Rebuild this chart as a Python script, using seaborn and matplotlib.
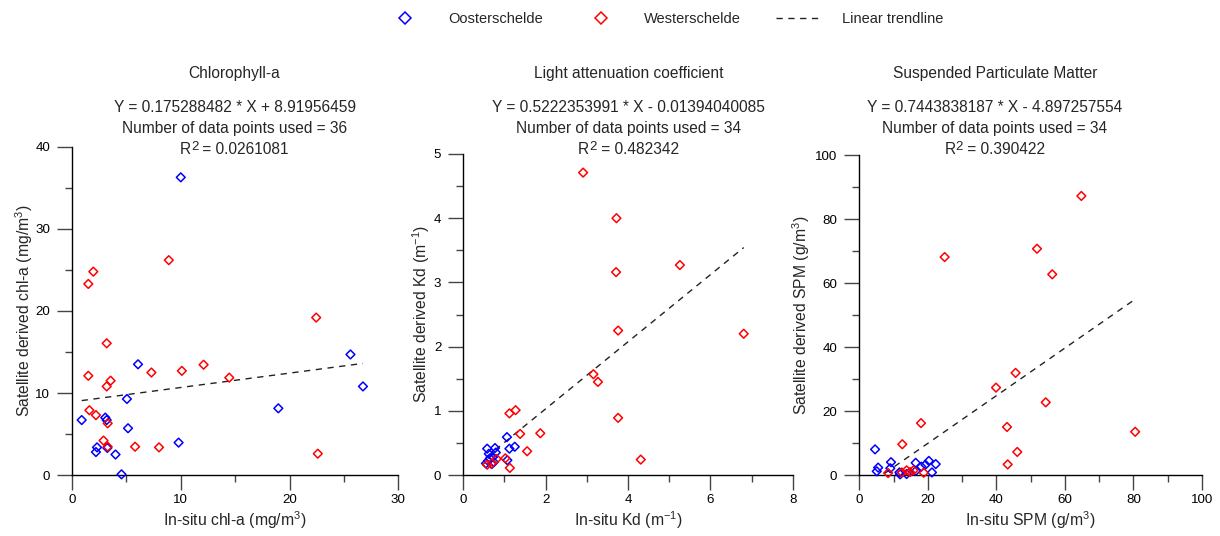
import numpy as np
import pandas as pd
import matplotlib
matplotlib.use("Agg")
import matplotlib.pyplot as plt
from matplotlib.lines import Line2D
from matplotlib.ticker import MultipleLocator
import matplotlib.transforms as mtransforms
import seaborn as sns

# ---------------- data ----------------
series_names = ["Oosterschelde", "Westerschelde"]
series_colors = ["#0000ff", "#ff0000"]

oos_chl_x = [10.0, 6.07, 5.05, 0.89, 3.06, 3.19, 5.15, 3.25, 9.8, 2.3, 2.2, 4.0, 4.55, 25.6, 26.75, 18.97]
oos_chl_y = [36.3, 13.5, 9.27, 6.7, 7.0, 6.7, 5.7, 3.3, 3.95, 3.37, 2.8, 2.5, 0.08, 14.7, 10.8, 8.13]
wes_chl_x = [8.9, 1.96, 1.5, 3.19, 1.5, 7.3, 10.1, 12.1, 3.55, 3.19, 1.6, 2.2, 3.28, 2.9, 3.28, 5.8, 8.0, 22.45, 14.46, 22.6]
wes_chl_y = [26.2, 24.8, 23.3, 16.06, 12.1, 12.5, 12.7, 13.45, 11.5, 10.8, 7.9, 7.3, 6.3, 4.2, 3.45, 3.45, 3.37, 19.2, 11.87, 2.6]

oos_kd_x = [1.06, 1.25, 1.12, 0.58, 0.77, 0.79, 1.07, 0.65, 0.69, 0.55, 0.74, 0.62, 0.72, 0.6]
oos_kd_y = [0.59, 0.44, 0.41, 0.41, 0.42, 0.35, 0.23, 0.26, 0.17, 0.18, 0.2, 0.33, 0.28, 0.22]
wes_kd_x = [2.91, 3.72, 3.71, 5.26, 3.76, 6.81, 3.27, 3.76, 4.31, 3.16, 1.12, 1.27, 1.38, 1.87, 1.55, 1.13, 1.02, 0.81, 0.69, 0.58]
wes_kd_y = [4.71, 4.0, 3.16, 3.27, 2.25, 2.2, 1.45, 0.89, 0.24, 1.57, 0.96, 1.01, 0.64, 0.65, 0.37, 0.11, 0.26, 0.25, 0.18, 0.16]

oos_spm_x = [4.6, 5.5, 5.1, 9.25, 9.05, 11.7, 11.9, 13.8, 16.45, 16.5, 18.1, 19.3, 20.3, 21.2, 22.3]
oos_spm_y = [8.1, 2.4, 1.25, 4.1, 2.2, 0.9, 0.3, 0.4, 3.9, 1.4, 2.7, 3.3, 4.5, 0.9, 3.5]
wes_spm_x = [24.9, 64.8, 51.85, 56.3, 45.6, 54.4, 80.5, 46.1, 39.9, 43.1, 43.3, 18.0, 12.55, 8.4, 18.8, 12.4, 13.8, 14.8, 15.8]
wes_spm_y = [68.2, 87.3, 70.8, 62.8, 32.0, 22.8, 13.6, 7.3, 27.4, 15.1, 3.4, 16.3, 9.7, 0.7, 0.8, 0.9, 1.55, 1.0, 1.55]

slopes = [0.175288482, 0.5222353991, 0.7443838187]
intercepts = [8.91956459, -0.01394040085, -4.897257554]

titles = ["Chlorophyll-a", "Light attenuation coefficient", "Suspended Particulate Matter"]
equations = ["Y = 0.175288482 * X + 8.91956459",
             "Y = 0.5222353991 * X - 0.01394040085",
             "Y = 0.7443838187 * X - 4.897257554"]
n_points = [36, 34, 34]
r2_values = ["0.0261081", "0.482342", "0.390422"]
xlabels = ["In-situ chl-a (mg/m$^{3}$)", "In-situ Kd (m$^{-1}$)", "In-situ SPM (g/m$^{3}$)"]
ylabels = ["Satellite derived chl-a (mg/m$^{3}$)", "Satellite derived Kd (m$^{-1}$)",
           "Satellite derived SPM (g/m$^{3}$)"]

# ---------------- style ----------------
sns.set_style("white")
plt.rcParams["font.family"] = ["Liberation Sans", "DejaVu Sans"]
plt.rcParams["mathtext.fontset"] = "custom"
plt.rcParams["mathtext.rm"] = "Liberation Sans"
plt.rcParams["mathtext.it"] = "Liberation Sans:italic"
plt.rcParams["mathtext.bf"] = "Liberation Sans:bold"

W, H = 1220, 536
fig = plt.figure(figsize=(W / 100, H / 100), dpi=100)
renderer = fig.canvas.get_renderer()

TXT_FS = 11.2
LAB_FS = 11.3
TICK_FS = 9.6

# axes rectangles in pixels: (left, right, top, bottom)
rects_px = [(72, 398.3, 147, 475), (463.3, 792.7, 154, 475), (859.3, 1202, 155.3, 475.3)]
limits = [((0, 30), (0, 40)), ((0, 8), (0, 5)), ((0, 100), (0, 100))]
majors = [(10, 10), (2, 1), (20, 20)]
minors = [(5, 5), (1, 0.5), (10, 10)]
text_cx = [234.5, 628.5, 995]
ylabel_x = [24, 421, 801]

datasets = [
    (oos_chl_x, oos_chl_y, wes_chl_x, wes_chl_y),
    (oos_kd_x, oos_kd_y, wes_kd_x, wes_kd_y),
    (oos_spm_x, oos_spm_y, wes_spm_x, wes_spm_y),
]

palette = dict(zip(series_names, series_colors))


def r2_line(cx_px, base_px, value):
    """Draw 'R' + raised '2' + ' = value' centred at cx_px with baseline base_px."""
    parts = [("R", TXT_FS, 0), ("2", TXT_FS * 0.85, 4.0), (" = " + value, TXT_FS, 0)]
    texts = []
    widths = []
    for s, fs, dy in parts:
        t = fig.text(0, 0, s, fontsize=fs, ha="left", va="baseline")
        widths.append(t.get_window_extent(renderer).width)
        texts.append((t, dy))
    total = sum(widths)
    x = cx_px - total / 2
    for (t, dy), w in zip(texts, widths):
        tr = mtransforms.offset_copy(fig.transFigure, fig=fig, x=0, y=dy, units="dots")
        t.set_transform(tr)
        t.set_position((x / W, 1 - base_px / H))
        x += w


for i in range(3):
    l, r, t, b = rects_px[i]
    ax = fig.add_axes([l / W, 1 - b / H, (r - l) / W, (b - t) / H])
    ox, oy, wx, wy = datasets[i]
    df = pd.DataFrame({
        "x": list(ox) + list(wx),
        "y": list(oy) + list(wy),
        "site": [series_names[0]] * len(ox) + [series_names[1]] * len(wx),
    })
    sns.scatterplot(data=df, x="x", y="y", hue="site", palette=palette, marker="D",
                    s=20, linewidth=1.1, ax=ax, legend=False, zorder=3, clip_on=False)
    for coll in ax.collections:
        fc = coll.get_facecolors()
        coll.set_edgecolors(fc)
        coll.set_facecolors("none")

    xmin, xmax = df["x"].min(), df["x"].max()
    line_x = np.array([xmin, xmax])
    line_y = slopes[i] * line_x + intercepts[i]
    sns.lineplot(x=line_x, y=line_y, ax=ax, color="#222222", linewidth=1.0,
                 linestyle=(0, (4.5, 4)), zorder=2)

    ax.set_xlim(*limits[i][0])
    ax.set_ylim(*limits[i][1])
    ax.xaxis.set_major_locator(MultipleLocator(majors[i][0]))
    ax.yaxis.set_major_locator(MultipleLocator(majors[i][1]))
    ax.xaxis.set_minor_locator(MultipleLocator(minors[i][0]))
    ax.yaxis.set_minor_locator(MultipleLocator(minors[i][1]))

    for s in ["top", "right"]:
        ax.spines[s].set_visible(False)
    for s in ["left", "bottom"]:
        ax.spines[s].set_color("black")
        ax.spines[s].set_linewidth(1.0)
    ax.tick_params(axis="both", which="major", direction="out", length=10.8, width=1.0,
                   color="#444444", labelsize=TICK_FS, labelcolor="black")
    ax.tick_params(axis="both", which="minor", direction="out", length=5.2, width=1.0,
                   color="#444444")
    ax.tick_params(axis="x", which="major", pad=3)
    ax.tick_params(axis="y", which="major", pad=5)
    ax.tick_params(bottom=True, left=True, which="both")

    ax.set_xlabel(xlabels[i], fontsize=LAB_FS, va="center")
    ax.xaxis.set_label_coords(((l + r) / 2) / W, 1 - 520 / H, transform=fig.transFigure)
    ax.set_ylabel(ylabels[i], fontsize=LAB_FS, va="center")
    ax.yaxis.set_label_coords(ylabel_x[i] / W, 1 - ((t + b) / 2) / H, transform=fig.transFigure)

    cx = text_cx[i] / W
    fig.text(cx, 1 - 78 / H, titles[i], ha="center", va="baseline", fontsize=TXT_FS)
    fig.text(cx, 1 - 111.5 / H, equations[i], ha="center", va="baseline", fontsize=TXT_FS)
    fig.text(cx, 1 - 133.5 / H, f"Number of data points used = {n_points[i]}",
             ha="center", va="baseline", fontsize=TXT_FS)
    r2_line(text_cx[i], 154, r2_values[i])

handles = [
    Line2D([], [], linestyle="none", marker="D", markersize=6.2, markerfacecolor="none",
           markeredgecolor=series_colors[0], markeredgewidth=1.1),
    Line2D([], [], linestyle="none", marker="D", markersize=6.2, markerfacecolor="none",
           markeredgecolor=series_colors[1], markeredgewidth=1.1),
    Line2D([], [], color="#222222", linewidth=1.0, linestyle=(0, (4.5, 4))),
]
fig.legend(handles, series_names + ["Linear trendline"], loc="center",
           bbox_to_anchor=(662.5 / W, 1 - 19 / H), ncol=3, frameon=False, fontsize=10.5,
           handlelength=3.2, handletextpad=1.35, columnspacing=2.4)

fig.savefig("out.png", dpi=100)
